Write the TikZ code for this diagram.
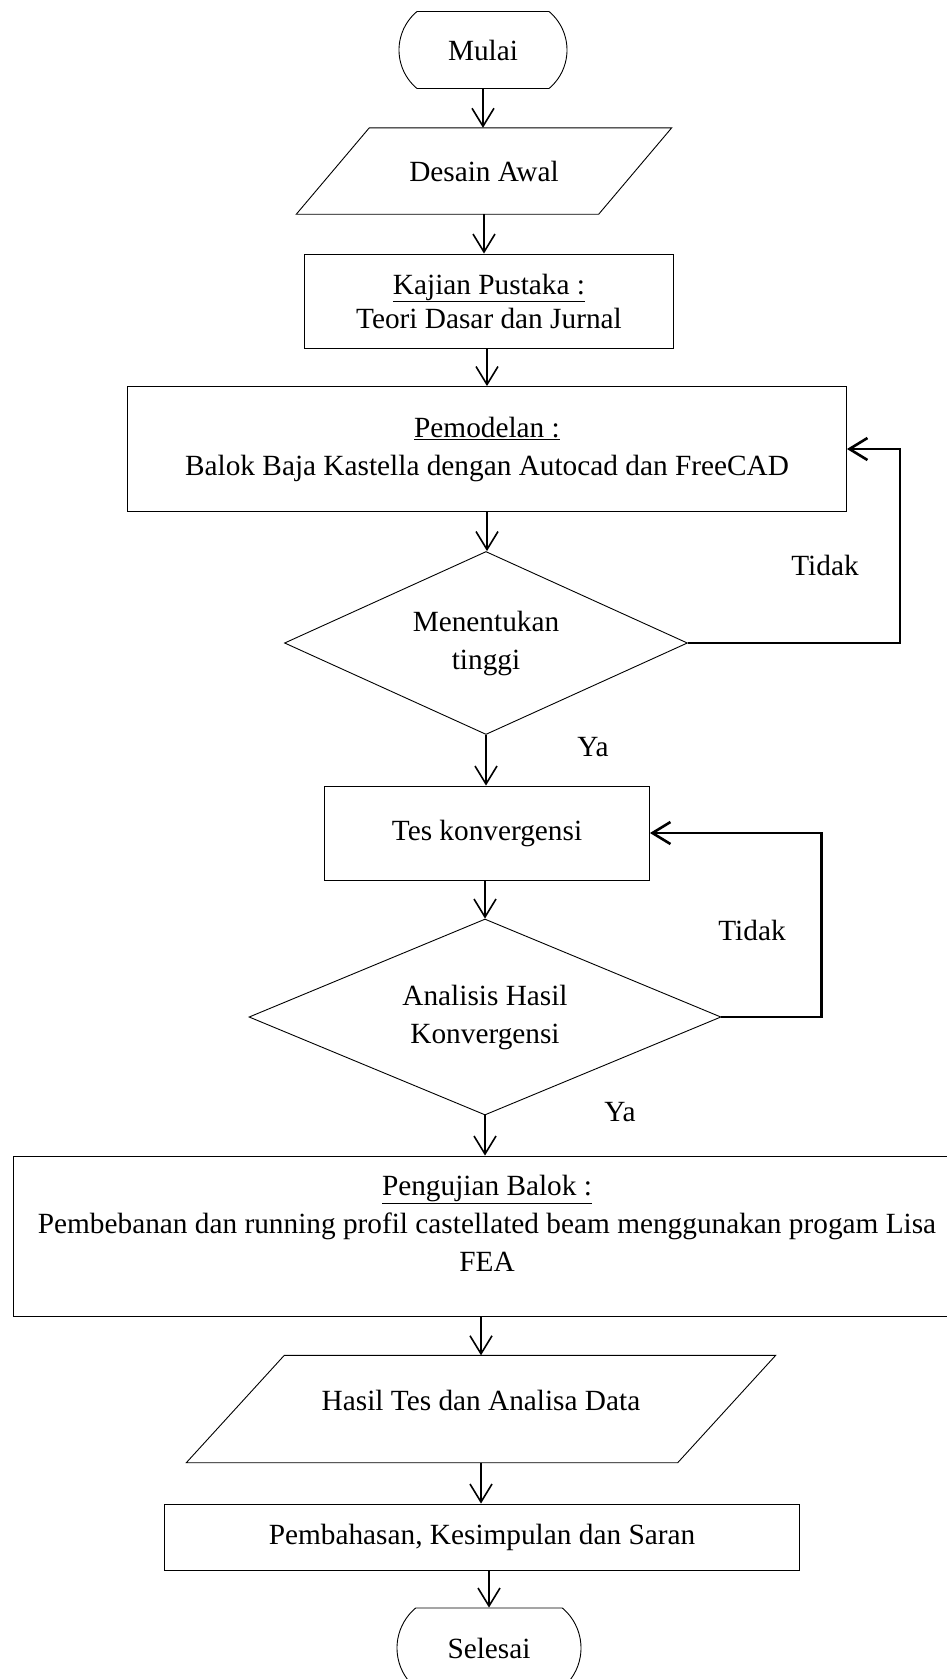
\documentclass[tikz,border=0pt]{standalone}
\usepackage{fontspec}
\setmainfont{Liberation Serif}
\usetikzlibrary{arrows.meta, positioning, calc, shapes.geometric, shapes.misc}

\begin{document}
\begin{tikzpicture}[
  x=1pt, y=-1pt,
  font=\fontsize{29.3}{38}\selectfont,
  box/.style    ={draw, line width=0.9pt, align=center, inner sep=0pt},
  term/.style   ={box, rounded rectangle, rounded rectangle arc length=100,
                  minimum height=77pt},
  proc/.style   ={box, rectangle},
  data/.style   ={rectangle, align=center, inner sep=0pt},
  slant/.style  ={line width=0.9pt, line join=miter},
  decide/.style ={box, diamond, aspect=2.4},
  flow/.style   ={-{Straight Barb[length=18pt, width=22pt]}, line width=1.6pt},
  back/.style   ={flow, line width=2.6pt},
  answer/.style ={inner sep=0pt},
]

\useasboundingbox (0,0) rectangle (947,1679);
\clip (0,0) rectangle (947,1679);

% ----- Start and input -----
\node[term, minimum width=168pt] (MULAI) at (483, 50) {Mulai};
\node[data, minimum width=302pt, minimum height=86pt] (DESAIN) at (484, 171)
  {Desain Awal};
\draw[slant] ($(DESAIN.north west)+(36.5,0)$) -- ($(DESAIN.north east)+(36.5,0)$)
  -- ($(DESAIN.south east)+(-36.5,0)$) -- ($(DESAIN.south west)+(-36.5,0)$) -- cycle;

% ----- Study and modelling -----
\node[proc, minimum width=369pt, minimum height=94pt] (KAJIAN) at (489, 301)
  {\underline{Kajian Pustaka :}\\[-4pt]
   Teori Dasar dan Jurnal};
\node[proc, minimum width=719pt, minimum height=125pt] (MODEL) at (487, 449)
  {\underline{Pemodelan :}\\
   Balok Baja Kastella dengan Autocad dan FreeCAD};
\node[decide, minimum width=403pt, minimum height=183pt] (TINGGI) at (486, 643)
  {Menentukan\\tinggi};

% ----- Convergence -----
\node[proc, minimum width=325pt, minimum height=94pt] (KONV) at (487, 833)
  {Tes konvergensi};
\node[decide, minimum width=472pt, minimum height=196pt] (ANALISIS) at (485, 1017)
  {Analisis Hasil\\Konvergensi};

% ----- Testing and output -----
\node[proc, minimum width=948pt, minimum height=160pt] (UJI) at (487, 1236)
  {\underline{Pengujian Balok :}\\
   Pembebanan dan running profil castellated beam menggunakan progam Lisa\\
   FEA\\[-12pt]\mbox{}};
\node[data, minimum width=491pt, minimum height=107pt] (HASIL) at (481, 1409)
  {Hasil Tes dan Analisa Data\\[-20pt]\mbox{}};
\draw[slant] ($(HASIL.north west)+(49,0)$) -- ($(HASIL.north east)+(49,0)$)
  -- ($(HASIL.south east)+(-49,0)$) -- ($(HASIL.south west)+(-49,0)$) -- cycle;
\node[proc, minimum width=635pt, minimum height=66pt] (BAHAS) at (482, 1537)
  {Pembahasan, Kesimpulan dan Saran};
\node[term, minimum width=184pt, minimum height=80pt] (SELESAI) at (489, 1648)
  {Selesai};

% ----- Arrows -----
\draw[flow] (MULAI.south)    -- (MULAI.south |- DESAIN.north);
\draw[flow] (DESAIN.south)   -- (DESAIN.south |- KAJIAN.north);
\draw[flow] (KAJIAN.south -| MODEL.north) -- (MODEL.north);
\draw[flow] (MODEL.south)    -- (MODEL.south |- TINGGI.north);
\draw[flow] (TINGGI.south)   -- (TINGGI.south |- KONV.north);
\draw[flow] (KONV.south -| ANALISIS.north) -- (ANALISIS.north);
\draw[flow] (ANALISIS.south) -- (ANALISIS.south |- UJI.north);
\draw[flow] (UJI.south -| HASIL.north) -- (HASIL.north);
\draw[flow] (HASIL.south)    -- (HASIL.south |- BAHAS.north);
\draw[flow] (BAHAS.south -| SELESAI.north) -- (SELESAI.north);

% Loop-back arrows on the right side
\draw[back] (TINGGI.east) -- ++(212,0) |- (MODEL.east);
\draw[back] (ANALISIS.east) -- ++(100,0) |- (KONV.east);

% Labels on the branches
\node[answer] (TIDAK1) at (825, 565)  {Tidak};
\node[answer] (YA1)    at (593, 747)  {Ya};
\node[answer] (TIDAK2) at (752, 930)  {Tidak};
\node[answer] (YA2)    at (620, 1112) {Ya};

\end{tikzpicture}
\end{document}
